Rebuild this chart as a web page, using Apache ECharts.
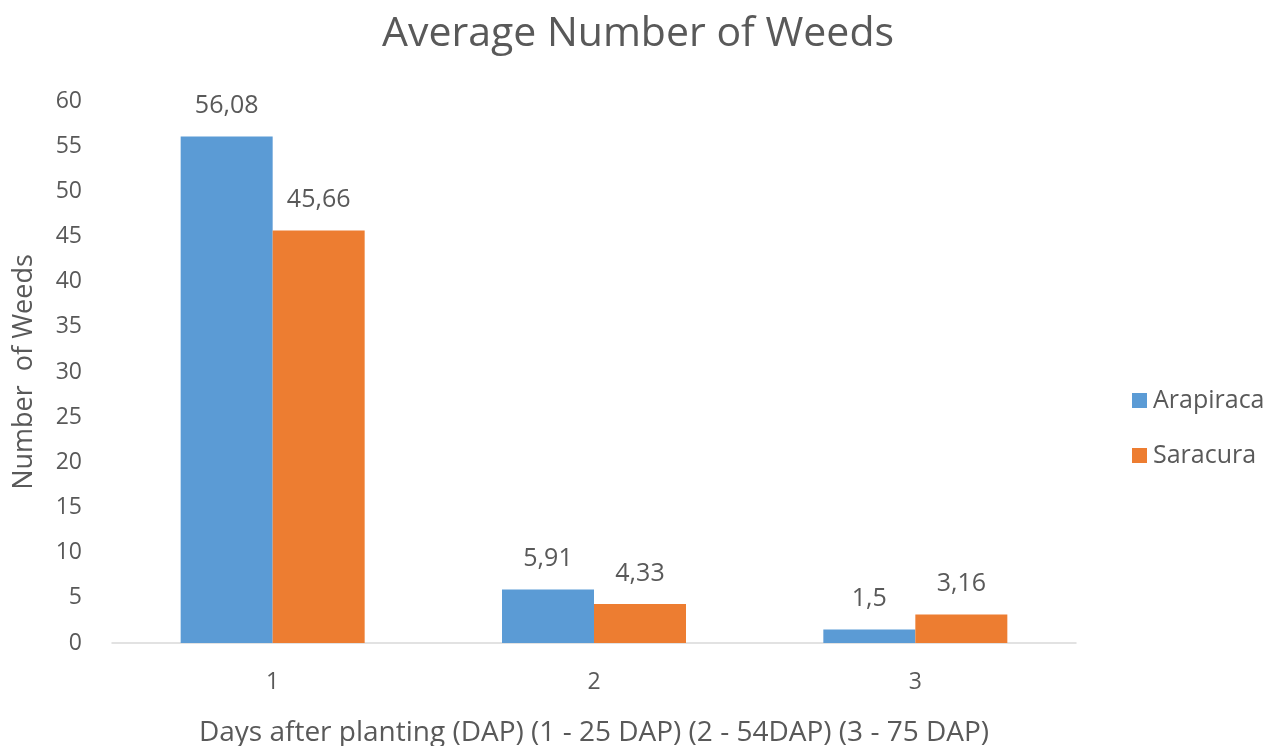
<!DOCTYPE html>
<html>
<head>
<meta charset="utf-8">
<script src="https://cdn.jsdelivr.net/npm/echarts@6/dist/echarts.min.js"></script>
<style>
  html, body { margin: 0; padding: 0; background: #fff; }
  #chart { width: 1276px; height: 746px; }
</style>
</head>
<body>
<div id="chart"></div>
<script>
const categories = ['1', '2', '3']
const arapiraca = [56.08, 5.91, 1.5]
const saracura = [45.66, 4.33, 3.16]
const seriesNames = ['Arapiraca', 'Saracura']

const FONT = 'Open Sans'
const TEXT = '#595959'

// Excel-style labels use a comma for decimals
const fmt = p => String(p.value).replace('.', ',')

const chart = echarts.init(document.getElementById('chart'))
chart.setOption({
  backgroundColor: '#fff',
  animation: false,
  title: {
    text: 'Average Number of Weeds',
    left: 'center',
    top: 9,
    textStyle: { fontFamily: FONT, fontSize: 41, fontWeight: 'normal', color: TEXT }
  },
  legend: {
    orient: 'vertical',
    left: 1127,
    top: 383,
    itemWidth: 15,
    itemHeight: 15,
    itemGap: 30,
    icon: 'rect',
    textStyle: { fontFamily: FONT, fontSize: 25, color: TEXT, padding: [0, 0, 0, 1] },
    data: seriesNames
  },
  grid: { left: 112, right: 200, top: 101, bottom: 103, outerBoundsMode: 'none', containLabel: false },
  xAxis: {
    type: 'category',
    data: categories,
    axisLine: { lineStyle: { color: '#d9d9d9', width: 1.5 } },
    axisTick: { show: false },
    axisLabel: { fontFamily: FONT, fontSize: 23, color: TEXT, margin: 28 },
    name: 'Days after planting (DAP) (1 - 25 DAP) (2 - 54DAP) (3 - 75 DAP)',
    nameLocation: 'middle',
    nameGap: 76,
    nameTextStyle: { fontFamily: FONT, fontSize: 28, color: TEXT }
  },
  yAxis: {
    type: 'value',
    min: 0,
    max: 60,
    interval: 5,
    splitLine: { show: false },
    axisLine: { show: false },
    axisTick: { show: false },
    axisLabel: { fontFamily: FONT, fontSize: 23, color: TEXT, margin: 30 },
    name: 'Number  of Weeds',
    nameLocation: 'middle',
    nameGap: 74,
    nameTextStyle: { fontFamily: FONT, fontSize: 27, color: TEXT }
  },
  series: [
    {
      name: seriesNames[0],
      type: 'bar',
      data: arapiraca,
      barWidth: 92,
      barGap: '0%',
      itemStyle: { color: '#5b9bd5' },
      label: { show: true, position: 'top', distance: 18, formatter: fmt,
        fontFamily: FONT, fontSize: 25, color: TEXT }
    },
    {
      name: seriesNames[1],
      type: 'bar',
      data: saracura,
      barWidth: 92,
      barGap: '0%',
      itemStyle: { color: '#ed7d31' },
      label: { show: true, position: 'top', distance: 18, formatter: fmt,
        fontFamily: FONT, fontSize: 25, color: TEXT }
    }
  ]
})
</script>
</body>
</html>
